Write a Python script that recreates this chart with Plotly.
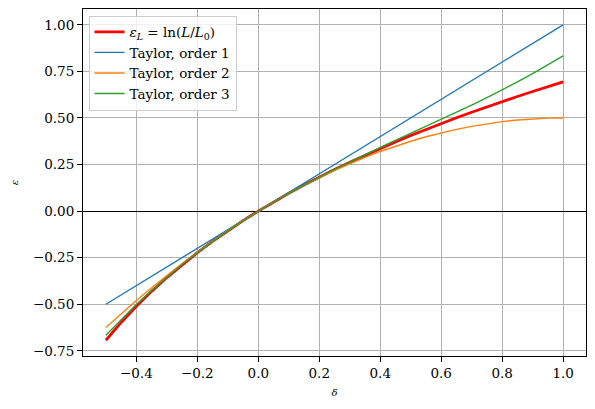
import plotly.graph_objects as go

# strain values
delta = [-0.50, -0.45, -0.40, -0.35, -0.30, -0.25, -0.20, -0.15, -0.10, -0.05,
         0.00, 0.05, 0.10, 0.15, 0.20, 0.25, 0.30, 0.35, 0.40, 0.45,
         0.50, 0.55, 0.60, 0.65, 0.70, 0.75, 0.80, 0.85, 0.90, 0.95, 1.00]

log_strain = [-0.6931, -0.5978, -0.5108, -0.4308, -0.3567, -0.2877, -0.2231, -0.1625, -0.1054, -0.0513,
              0.0000, 0.0488, 0.0953, 0.1398, 0.1823, 0.2231, 0.2624, 0.3001, 0.3365, 0.3716,
              0.4055, 0.4383, 0.4700, 0.5008, 0.5306, 0.5596, 0.5878, 0.6152, 0.6419, 0.6678, 0.6931]

order1_x = [-0.50, 1.00]
order1_y = [-0.50, 1.00]

order2 = [-0.6250, -0.5513, -0.4800, -0.4113, -0.3450, -0.2813, -0.2200, -0.1613, -0.1050, -0.0513,
          0.0000, 0.0488, 0.0950, 0.1388, 0.1800, 0.2188, 0.2550, 0.2888, 0.3200, 0.3488,
          0.3750, 0.3988, 0.4200, 0.4388, 0.4550, 0.4688, 0.4800, 0.4888, 0.4950, 0.4988, 0.5000]

order3 = [-0.6667, -0.5816, -0.5013, -0.4256, -0.3540, -0.2865, -0.2227, -0.1624, -0.1053, -0.0513,
          0.0000, 0.0488, 0.0953, 0.1399, 0.1827, 0.2240, 0.2640, 0.3030, 0.3413, 0.3791,
          0.4167, 0.4542, 0.4920, 0.5303, 0.5693, 0.6094, 0.6507, 0.6935, 0.7380, 0.7845, 0.8333]

FONT = "DejaVu Serif"

fig = go.Figure()
fig.add_trace(go.Scatter(x=delta, y=log_strain, mode="lines",
                         line=dict(color="#ff0000", width=2.8),
                         name="<i>ε</i><sub><i>L</i></sub> = ln(<i>L</i>/<i>L</i><sub>0</sub>)"))
fig.add_trace(go.Scatter(x=order1_x, y=order1_y, mode="lines",
                         line=dict(color="#1f77b4", width=1.4), name="Taylor, order 1"))
fig.add_trace(go.Scatter(x=delta, y=order2, mode="lines",
                         line=dict(color="#ff7f0e", width=1.4), name="Taylor, order 2"))
fig.add_trace(go.Scatter(x=delta, y=order3, mode="lines",
                         line=dict(color="#2ca02c", width=1.4), name="Taylor, order 3"))

axis_common = dict(
    showline=True, linecolor="black", linewidth=1.1, mirror=True,
    ticks="outside", ticklen=5, tickwidth=1.1, tickcolor="black",
    showgrid=True, gridcolor="#b0b0b0", gridwidth=1.1,
    tickfont=dict(family=FONT, size=13.5, color="black"),
)

fig.update_xaxes(range=[-0.575, 1.075], dtick=0.2, tick0=0, tickformat=".1f",
                 zeroline=False,
                 title=dict(text="<i>δ</i>", font=dict(family=FONT, size=10, color="black"), standoff=8),
                 **axis_common)
fig.update_yaxes(range=[-0.7778, 1.0847], dtick=0.25, tick0=0, tickformat=".2f",
                 zeroline=True, zerolinecolor="black", zerolinewidth=1.3,
                 title=dict(text="<i>ε</i>", font=dict(family=FONT, size=10, color="black"), standoff=12),
                 **axis_common)

fig.update_layout(
    width=595, height=409,
    margin=dict(l=83, r=9, t=9, b=53),
    paper_bgcolor="white", plot_bgcolor="white",
    font=dict(family=FONT, size=13.5, color="black"),
    legend=dict(x=0.011, y=0.981, xanchor="left", yanchor="top",
                bgcolor="rgba(255,255,255,0.8)", bordercolor="#cccccc", borderwidth=1,
                font=dict(family=FONT, size=13.5), tracegroupgap=0),
    showlegend=True,
)

# drop the browser's default body margin so the figure sits at the page corner
fig.write_html("out.html", config={"displayModeBar": False},
               post_script="document.body.style.margin='0';")
